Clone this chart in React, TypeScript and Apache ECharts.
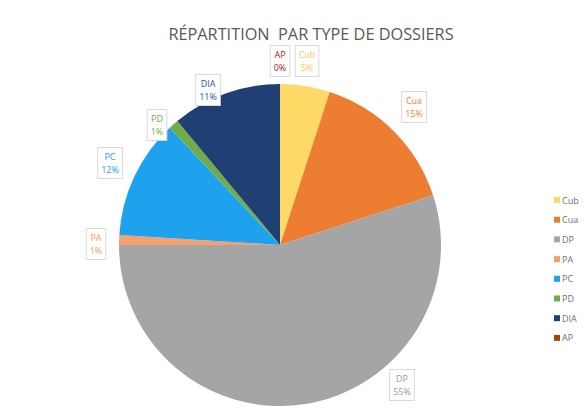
import React, { useEffect, useRef } from "react";
import * as echarts from "echarts";

const categories = ["Cub", "Cua", "DP", "PA", "PC", "PD", "DIA", "AP"];
const values = [5, 15, 55, 1, 12, 1, 11, 0];
const sliceColors = ["#FFD966", "#ED7D31", "#A5A5A5", "#F4A06F", "#1EA2EE", "#70AD47", "#203F73", "#9E480E"];
const labelColors = ["#FFC84A", "#ED7D31", "#9A9A9A", "#F4A06F", "#2A9BE8", "#70AD47", "#2F5597", "#C0101A"];
// label box centres (layout only)
const labelCenters = [
  [307, 61], [414, 107], [402, 385], [96, 244], [110, 163], [157, 125], [208, 90], [280, 61],
];

export default function App() {
  const ref = useRef<HTMLDivElement>(null);
  useEffect(() => {
    if (!ref.current) return;
    const chart = echarts.init(ref.current, undefined, { renderer: "svg" });
    chart.setOption({
      animation: false,
      backgroundColor: "#ffffff",
      title: {
        text: "RÉPARTITION  PAR TYPE DE DOSSIERS",
        left: 306,
        textAlign: "center",
        top: 21,
        textStyle: {
          fontFamily: "Open Sans",
          fontSize: 16.3,
          fontWeight: "normal",
          color: "#595959",
        },
      },
      legend: {
        orient: "vertical",
        left: 549,
        top: 190,
        itemWidth: 6,
        itemHeight: 6,
        itemGap: 9.7,
        icon: "rect",
        data: categories,
        textStyle: { fontSize: 9, lineHeight: 10, color: "#707070", fontFamily: "Open Sans", padding: [0, 0, 0, -3] },
      },
      series: [
        {
          type: "pie",
          center: [280, 245],
          radius: 161,
          startAngle: 90,
          clockwise: true,
          avoidLabelOverlap: false,
          label: {
            show: true,
            position: "outside",
            formatter: (p: any) => `${p.name}\n${p.value}%`,
            fontFamily: "Open Sans",
            fontSize: 9,
            lineHeight: 13.5,
            align: "center",
            backgroundColor: "#ffffff",
            borderColor: "#D9D9D9",
            borderWidth: 1,
            padding: [2, 3, 1, 3],
          },
          labelLine: { show: false },
          labelLayout: (params: any) => {
            const c = labelCenters[params.dataIndex];
            return { x: c[0], y: c[1], align: "center", verticalAlign: "middle" };
          },
          emphasis: { disabled: true },
          data: categories.map((name, i) => ({
            name,
            value: values[i],
            itemStyle: { color: sliceColors[i] },
            label: { color: labelColors[i] },
          })),
        },
      ],
    });
    return () => chart.dispose();
  }, []);
  return (
    <div
      ref={ref}
      style={{ position: "fixed", left: 0, top: 0, width: 585, height: 410 }}
    />
  );
}
